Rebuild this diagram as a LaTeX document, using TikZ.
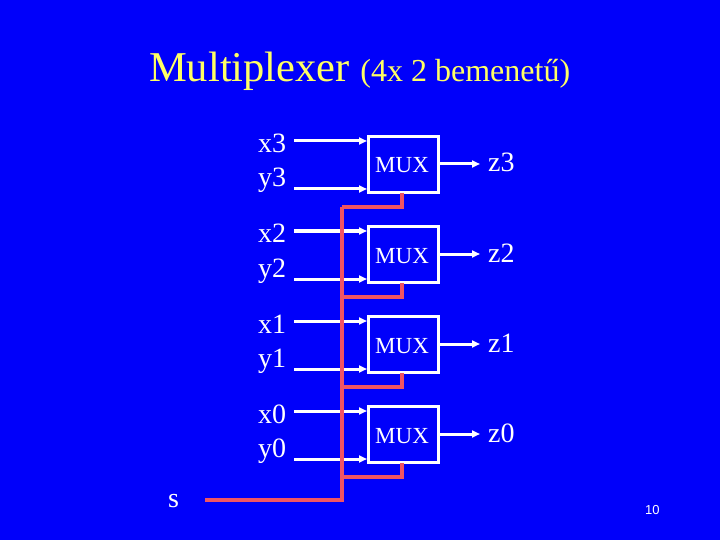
\documentclass[tikz,border=0pt]{standalone}
\usepackage{fontspec}
\setmainfont{Liberation Serif}
\newfontfamily\numfont{Liberation Sans}
\usetikzlibrary{arrows.meta}
\definecolor{bg}{RGB}{0,0,250}
\definecolor{sel}{RGB}{240,84,100}
\definecolor{ttl}{RGB}{255,255,100}
\begin{document}
\begin{tikzpicture}[x=1pt,y=-1pt,
  muxbox/.style={draw=white,line width=3pt,minimum width=70pt,minimum height=56pt,inner sep=0pt,text=white},
  lbl/.style={text=white,font=\fontsize{28}{28}\selectfont,anchor=base west,inner sep=0pt},
  wire/.style={white,line width=3pt,-{Triangle[length=8pt,width=7pt]}},
  selw/.style={sel,line width=4.5pt,line join=miter}]
\fill[bg] (0,0) rectangle (720,540);
\useasboundingbox (0,0) rectangle (720,540);
\node[anchor=base west,inner sep=0pt,text=ttl] (title) at (149,82)
  {\fontsize{42.5}{42.5}\selectfont Multiplexer \fontsize{32}{32}\selectfont(4x 2 bemenetű)};
\foreach \i/\t in {3/135,2/225,1/315,0/405}{
  \node[muxbox,anchor=north west] (m\i) at (367,\t) {};
  \node[anchor=base west,inner sep=0pt,text=white,font=\fontsize{23}{23}\selectfont] (mt\i) at (375,\t+38) {MUX};
  \node[lbl] (x\i) at (258,\t+18) {x\i};
  \node[lbl] (y\i) at (258,\t+52) {y\i};
  \node[lbl] (z\i) at (488,\t+37) {z\i};
  \coordinate (xs\i) at (294,\t+6);
  \coordinate (ys\i) at (294,\t+54);
  \coordinate (zs\i) at (480,\t+29);
  \coordinate (c\i) at (402,\t+58);
  \coordinate (k\i) at (342,\t+72);
  \draw[wire] (xs\i) -- (m\i.west |- xs\i);
  \draw[wire] (ys\i) -- (m\i.west |- ys\i);
  \draw[wire] (m\i.east |- zs\i) -- (zs\i);
  \draw[selw] (c\i) |- (k\i);
}
\coordinate (sEnd) at (205,500);
\coordinate (busB) at (342,500);
\draw[selw] (k3) -- (busB) -- (sEnd);
\node[lbl] (s) at (168,507) {s};
\node[anchor=base west,inner sep=0pt,text=white,font=\numfont\fontsize{13}{13}\selectfont] (pg) at (645,514) {10};
\end{tikzpicture}
\end{document}
